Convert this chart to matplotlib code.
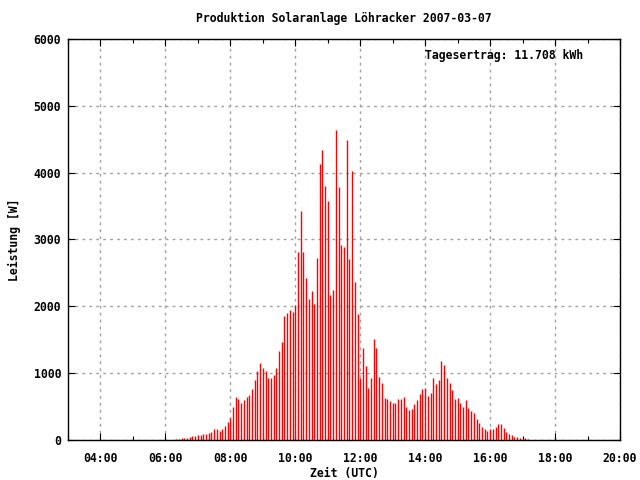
import matplotlib
matplotlib.use("Agg")
import matplotlib.pyplot as plt
from matplotlib.ticker import MultipleLocator, FuncFormatter

# ---- data ----
times = [
    "06:20", "06:25", "06:30", "06:35", "06:40", "06:45", "06:50", "06:55",
    "07:00", "07:05", "07:10", "07:15", "07:20", "07:25", "07:30", "07:35",
    "07:40", "07:45", "07:50", "07:55", "08:00", "08:05", "08:10", "08:15",
    "08:20", "08:25", "08:30", "08:35", "08:40", "08:45", "08:50", "08:55",
    "09:00", "09:05", "09:10", "09:15", "09:20", "09:25", "09:30", "09:35",
    "09:40", "09:45", "09:50", "09:55", "10:00", "10:05", "10:10", "10:15",
    "10:20", "10:25", "10:30", "10:35", "10:40", "10:45", "10:50", "10:55",
    "11:00", "11:05", "11:10", "11:15", "11:20", "11:25", "11:30", "11:35",
    "11:40", "11:45", "11:50", "11:55", "12:00", "12:05", "12:10", "12:15",
    "12:20", "12:25", "12:30", "12:35", "12:40", "12:45", "12:50", "12:55",
    "13:00", "13:05", "13:10", "13:15", "13:20", "13:25", "13:30", "13:35",
    "13:40", "13:45", "13:50", "13:55", "14:00", "14:05", "14:10", "14:15",
    "14:20", "14:25", "14:30", "14:35", "14:40", "14:45", "14:50", "14:55",
    "15:00", "15:05", "15:10", "15:15", "15:20", "15:25", "15:30", "15:35",
    "15:40", "15:45", "15:50", "15:55", "16:00", "16:05", "16:10", "16:15",
    "16:20", "16:25", "16:30", "16:35", "16:40", "16:45", "16:50", "16:55",
    "17:00", "17:05", "17:10",
]
watts = [
    15, 15, 30, 30, 30, 45, 60, 60,
    75, 75, 90, 90, 105, 120, 165, 165,
    135, 165, 210, 270, 330, 495, 645, 615,
    560, 605, 650, 680, 756, 892, 1028, 1149,
    1073, 1028, 922, 922, 968, 1073, 1330, 1467,
    1860, 1905, 1950, 1920, 2025, 2820, 3420, 2820,
    2430, 2115, 2235, 2040, 2730, 4125, 4335, 3795,
    3570, 2175, 2250, 4635, 3780, 2925, 2895, 4485,
    2715, 4020, 2370, 1890, 930, 1380, 1110, 780,
    930, 1510, 1373, 940, 851, 627, 612, 582,
    552, 552, 612, 612, 642, 493, 448, 463,
    537, 597, 687, 761, 776, 657, 701, 925,
    836, 895, 1179, 1119, 925, 851, 746, 612,
    627, 552, 493, 597, 478, 433, 403, 313,
    254, 194, 164, 134, 164, 164, 194, 239,
    239, 179, 119, 90, 75, 45, 45, 30,
    30, 30, 15,
]
title = "Produktion Solaranlage Löhracker 2007-03-07"
annotation = "Tagesertrag: 11.708 kWh"
xlabel = "Zeit (UTC)"
ylabel = "Leistung [W]"

hours = [int(t[:2]) + int(t[3:]) / 60.0 for t in times]

plt.rcParams['font.family'] = ['DejaVu Sans Mono']
plt.rcParams['font.weight'] = 'bold'
FS = 8.3

fig = plt.figure(figsize=(6.4, 4.8), dpi=100)
ax = fig.add_axes([68 / 640, 1 - 440 / 480, (620 - 68) / 640, (440 - 39) / 480])

ax.vlines(hours, 0, watts, colors="#ff0000", linewidth=1.0, zorder=3)

ax.set_xlim(3, 20)
ax.set_ylim(0, 6000)
ax.xaxis.set_major_locator(MultipleLocator(2))
ax.xaxis.set_minor_locator(MultipleLocator(1))
ax.yaxis.set_major_locator(MultipleLocator(1000))
ax.xaxis.set_major_formatter(FuncFormatter(lambda v, p: "%02d:00" % int(round(v))))
ax.yaxis.set_major_formatter(FuncFormatter(lambda v, p: "%d" % int(round(v))))

ax.tick_params(axis='both', which='major', direction='in', length=5, width=0.8,
               top=True, right=True, labelsize=FS, colors='black')
ax.tick_params(axis='x', which='major', pad=8.5)
ax.tick_params(axis='y', which='major', pad=5)
ax.tick_params(axis='x', which='minor', direction='in', length=3, width=0.8,
               top=True, bottom=True)

ax.grid(True, which='major', color='#a0a0a0', linestyle=(0, (2, 3)), linewidth=1.0, zorder=1)
for s in ax.spines.values():
    s.set_linewidth(1.0)
    s.set_color('black')
    s.set_zorder(4)

fig.text(344 / 640, 1 - 18 / 480, title, ha='center', va='center', fontsize=FS, fontweight='bold')
ax.text(425 / 640, 1 - 56 / 480, annotation, transform=fig.transFigure,
        ha='left', va='center', fontsize=FS, fontweight='bold')
fig.text(344 / 640, 1 - 473 / 480, xlabel, ha='center', va='center', fontsize=FS, fontweight='bold')
fig.text(14 / 640, 1 - 240 / 480, ylabel, ha='center', va='center', rotation=90,
         fontsize=FS, fontweight='bold')

fig.savefig("out.png", dpi=100)
